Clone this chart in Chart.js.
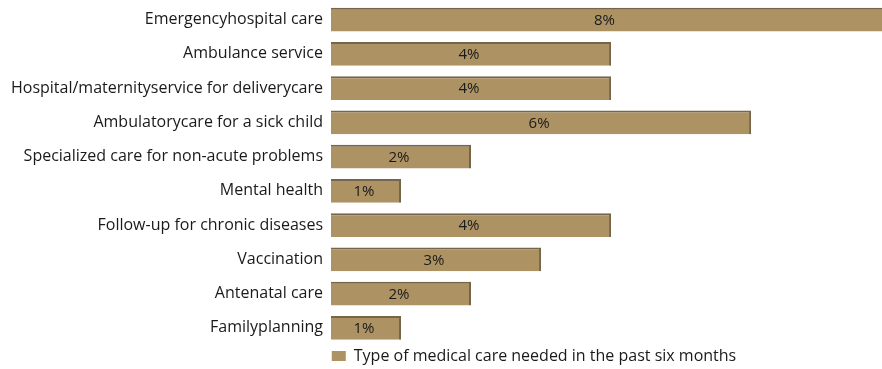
<!DOCTYPE html>
<html>
<head>
<meta charset="utf-8">
<script src="https://cdn.jsdelivr.net/npm/chart.js@4"></script>
<style>
  html, body { margin: 0; padding: 0; background: #fff; }
  #wrap { width: 882px; height: 369px; }
</style>
</head>
<body>
<div id="wrap"><canvas id="chart" width="882" height="369"></canvas></div>
<script>
// Type of medical care needed in the past six months (%)
const categories = [
  'Emergencyhospital care',
  'Ambulance service',
  'Hospital/maternityservice for deliverycare',
  'Ambulatorycare for a sick child',
  'Specialized care for non-acute problems',
  'Mental health',
  'Follow-up for chronic diseases',
  'Vaccination',
  'Antenatal care',
  'Familyplanning'
];
const values = [8, 4, 4, 6, 2, 1, 4, 3, 2, 1];
const seriesName = 'Type of medical care needed in the past six months';

const FONT = '"Open Sans", "Noto Sans", sans-serif';
const BAR = '#ad9264';
const EDGE = '#75654a';

// value labels centred in the visible part of each bar
const barLabels = {
  id: 'barLabels',
  afterDatasetsDraw(chart){
    const ctx = chart.ctx;
    const area = chart.chartArea;
    const meta = chart.getDatasetMeta(0);
    ctx.save();
    ctx.font = '15px ' + FONT;
    ctx.fillStyle = '#1a1a1a';
    ctx.textAlign = 'center';
    ctx.textBaseline = 'middle';
    meta.data.forEach((bar, i) => {
      const end = Math.min(bar.x, area.right);
      ctx.fillText(values[i] + '%', (bar.base + end) / 2 - 2, bar.y + 1);
    });
    ctx.restore();
  }
};

// shift the legend so it sits where the reference has it
const legendShift = {
  id: 'legendShift',
  afterLayout(chart){
    chart.legend.left += 186;
    chart.legend.top += 1;
  }
};

new Chart(document.getElementById('chart'), {
  type: 'bar',
  data: {
    labels: categories,
    datasets: [{
      label: seriesName,
      data: values,
      backgroundColor: BAR,
      borderColor: EDGE,
      borderWidth: { top: 2, right: 2, bottom: 0, left: 0 },
      borderSkipped: 'left',
      barPercentage: 0.7,
      categoryPercentage: 1
    }]
  },
  options: {
    indexAxis: 'y',
    responsive: false,
    animation: false,
    layout: { autoPadding: false, padding: { top: 2.5, right: 0, bottom: -4, left: 0 } },
    scales: {
      x: { display: false, min: 0, max: 7.87 },
      y: {
        grid: { display: false },
        border: { display: false },
        ticks: { color: '#1a1a1a', font: { family: FONT, size: 16 }, padding: 0 },
        afterFit(scale){
          scale.width = 331;
          scale.paddingTop = 0;
          scale.paddingBottom = 0;
        }
      }
    },
    plugins: {
      tooltip: { enabled: false },
      legend: {
        position: 'bottom',
        labels: {
          color: '#1a1a1a',
          font: { family: FONT, size: 16 },
          boxWidth: 14,
          boxHeight: 10,
          padding: 2,
          generateLabels(chart){
            return [{
              text: seriesName,
              fillStyle: BAR,
              strokeStyle: BAR,
              lineWidth: 0,
              datasetIndex: 0,
              fontColor: '#1a1a1a'
            }];
          }
        }
      }
    }
  },
  plugins: [barLabels, legendShift]
});
</script>
</body>
</html>
